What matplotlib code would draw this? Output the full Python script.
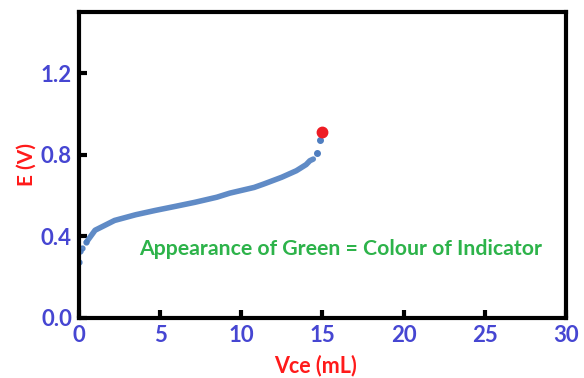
import numpy as np
import matplotlib.pyplot as plt

# Data
vce = [0.0, 0.1, 0.2, 0.47, 1.0, 2.2, 3.5, 4.7, 6.0, 7.15, 8.5, 9.3, 10.8,
       11.4, 12.5, 13.4, 14.0, 14.23, 14.44]
e_v = [0.275, 0.33, 0.345, 0.372, 0.43, 0.478, 0.506, 0.527, 0.548, 0.567,
       0.592, 0.612, 0.64, 0.657, 0.69, 0.722, 0.752, 0.771, 0.779]
tail_x = [14.64, 14.85]
tail_y = [0.808, 0.873]
end_x, end_y = 14.99, 0.914

blue = '#4f7ec0'
tick_col = '#4646d2'

plt.rcParams['font.family'] = ['Lato', 'DejaVu Sans']
fig = plt.figure(figsize=(5.84, 3.78), dpi=100)
ax = fig.add_axes([0.135, 0.159, 0.834, 0.809])

ax.plot(vce[3:], e_v[3:], color=blue, lw=4, alpha=0.9, solid_capstyle='round')
ax.plot(vce[:4], e_v[:4], 'o', color=blue, ms=3.5, alpha=0.9)
ax.plot(tail_x, tail_y, 'o', color=blue, ms=4)
ax.plot(end_x, end_y, 'o', color='#ee1c24', ms=7.5)

ax.text(16.1, 0.34, 'Appearance of Green = Colour of Indicator', color='#2db34a',
        fontsize=15.3, fontweight='bold', ha='center', va='center')

ax.set_xlim(0, 30)
ax.set_ylim(0, 1.5)
ax.set_xticks([0, 5, 10, 15, 20, 25, 30])
ax.set_yticks([0.0, 0.4, 0.8, 1.2])
ax.set_yticklabels(['0.0', '0.4', '0.8', '1.2'])
ax.tick_params(direction='in', length=6, width=3, colors='black',
               labelcolor=tick_col, labelsize=16, pad=5)
for lab in ax.get_xticklabels() + ax.get_yticklabels():
    lab.set_fontweight('bold')
for s in ax.spines.values():
    s.set_linewidth(3)

ax.set_xlabel('Vce (mL)', color='#ff1a1a', fontsize=15.5, fontweight='bold')
ax.set_ylabel('E (V)', color='#ff1a1a', fontsize=15, fontweight='bold', labelpad=3)
ax.xaxis.set_label_coords(0.486, -0.12)

fig.savefig('out.png', dpi=100)
